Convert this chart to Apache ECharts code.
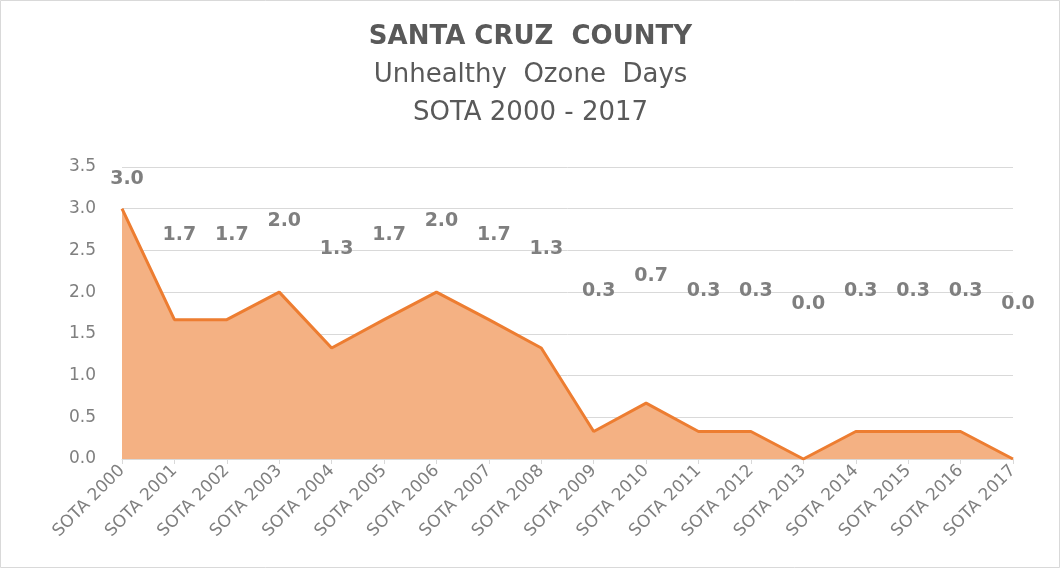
<!DOCTYPE html>
<html>
<head>
<meta charset="utf-8">
<script src="https://cdn.jsdelivr.net/npm/echarts@6/dist/echarts.min.js"></script>
<style>
  html, body { margin: 0; padding: 0; background: #fff; }
  #main { width: 1061px; height: 570px; }
</style>
</head>
<body>
<div id="main"></div>
<script>
// data
const years = ["SOTA 2000", "SOTA 2001", "SOTA 2002", "SOTA 2003", "SOTA 2004", "SOTA 2005",
  "SOTA 2006", "SOTA 2007", "SOTA 2008", "SOTA 2009", "SOTA 2010", "SOTA 2011",
  "SOTA 2012", "SOTA 2013", "SOTA 2014", "SOTA 2015", "SOTA 2016", "SOTA 2017"];
const ozoneDays = [3.0, 1.67, 1.67, 2.0, 1.33, 1.67, 2.0, 1.67, 1.33, 0.33, 0.67, 0.33,
  0.33, 0.0, 0.33, 0.33, 0.33, 0.0];
const yTicks = [0, 0.5, 1, 1.5, 2, 2.5, 3, 3.5];

const yMax = 3.5;
const gridTop = 167;
const gridHeight = 292;
const unit = gridHeight / yMax;
const fontFam = "'DejaVu Sans', 'Noto Sans', sans-serif";

const chart = echarts.init(document.getElementById("main"));

// excel puts area labels half way between the point and the top of the plot
const seriesData = ozoneDays.map(v => ({
  value: v,
  label: { offset: [5, -((yMax - v) / 2) * unit + 1] }
}));

chart.setOption({
  backgroundColor: "#FFFFFF",
  animation: false,
  title: [{
    text: "SANTA CRUZ  COUNTY",
    left: "center",
    top: 19,
    textStyle: { fontFamily: fontFam, fontSize: 26, fontWeight: "bold", color: "#595959" }
  }, {
    text: "Unhealthy  Ozone  Days",
    left: "center",
    top: 57,
    textStyle: { fontFamily: fontFam, fontSize: 26, fontWeight: "normal", color: "#595959" }
  }, {
    text: "SOTA 2000 - 2017",
    left: "center",
    top: 95,
    textStyle: { fontFamily: fontFam, fontSize: 26, fontWeight: "normal", color: "#595959" }
  }],
  grid: {
    left: 122,
    right: 48,
    top: gridTop,
    height: gridHeight
  },
  xAxis: {
    type: "category",
    boundaryGap: false,
    data: years,
    axisLine: { lineStyle: { color: "#d9d9d9", width: 1 } },
    axisTick: { show: true, length: 5, lineStyle: { color: "#d9d9d9" } },
    axisLabel: {
      rotate: 45,
      margin: 9,
      fontFamily: fontFam,
      fontSize: 17,
      color: "#7f7f7f"
    }
  },
  yAxis: {
    type: "value",
    min: 0,
    max: yMax,
    interval: 0.5,
    axisLine: { show: false },
    axisTick: { show: false },
    axisLabel: {
      margin: 26,
      fontFamily: fontFam,
      fontSize: 17,
      color: "#7f7f7f",
      formatter: v => yTicks.indexOf(v) >= 0 ? v.toFixed(1) : ""
    },
    splitLine: { lineStyle: { color: "#d9d9d9", width: 1 } }
  },
  series: [{
    name: "Unhealthy Ozone Days",
    type: "line",
    symbol: "circle",
    symbolSize: 0,
    showSymbol: true,
    data: seriesData,
    lineStyle: { color: "#ed7d31", width: 3 },
    itemStyle: { color: "#ed7d31" },
    areaStyle: { color: "#f4b183", opacity: 1 },
    label: {
      show: true,
      position: "top",
      distance: 0,
      fontFamily: fontFam,
      fontSize: 19,
      fontWeight: "bold",
      color: "#7f7f7f",
      formatter: p => p.value.toFixed(1)
    }
  }],
  graphic: [{
    type: "rect",
    shape: { x: 0.5, y: 0.5, width: 1059, height: 567 },
    style: { fill: "none", stroke: "#d9d9d9", lineWidth: 1 }
  }]
});
</script>
</body>
</html>
